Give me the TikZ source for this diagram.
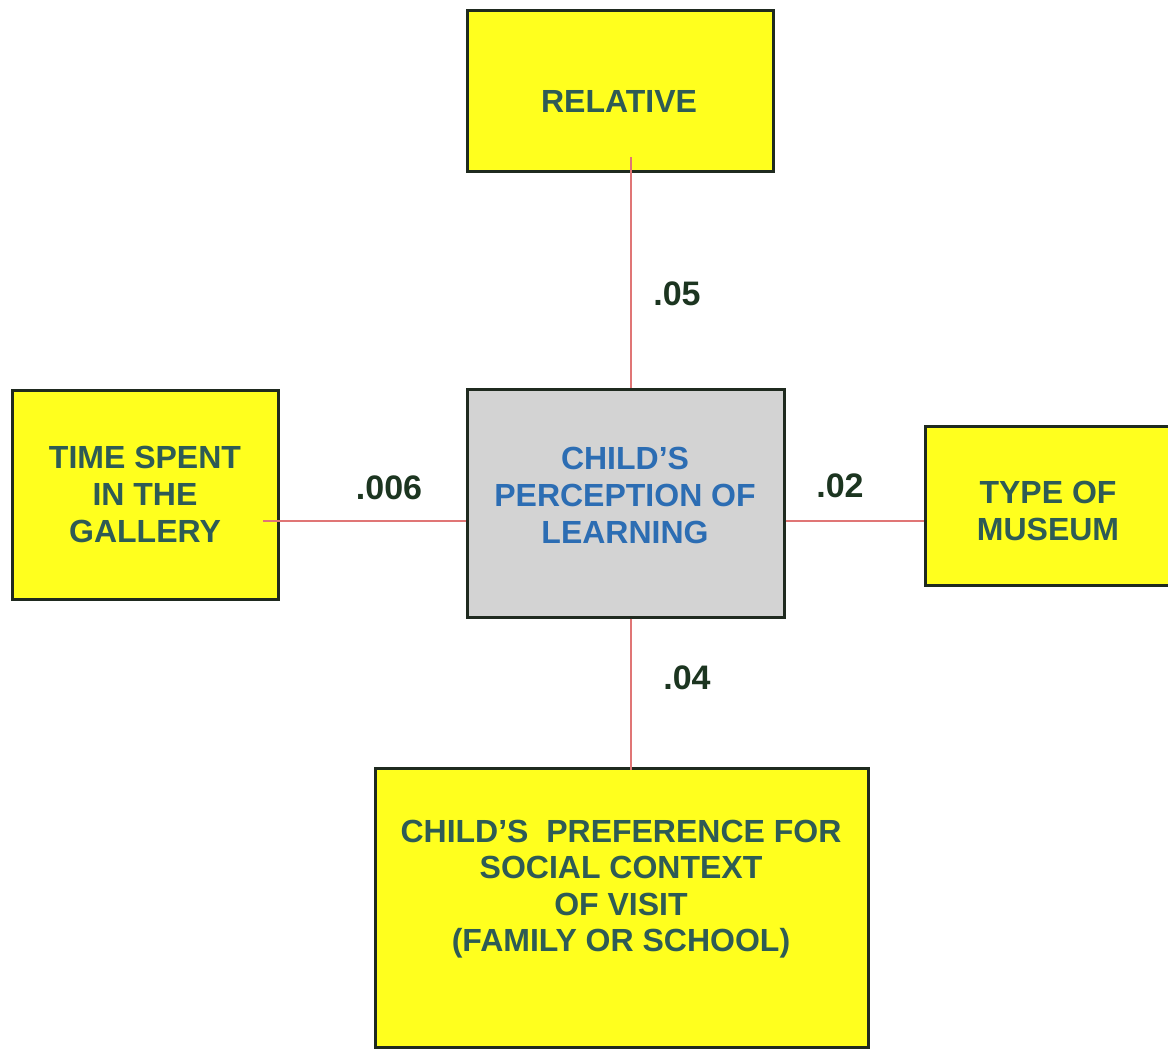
\documentclass[tikz,border=0pt]{standalone}
\usepackage{fontspec}
\setmainfont{Liberation Sans}
\definecolor{boxline}{HTML}{1F2A1F}
\definecolor{varyellow}{HTML}{FFFF1E}
\definecolor{outgrey}{HTML}{D3D3D3}
\definecolor{vartxt}{HTML}{2E5B55}
\definecolor{outtxt}{HTML}{2C6DB3}
\definecolor{coeftxt}{HTML}{1C3520}
\definecolor{linkred}{HTML}{E07575}
\begin{document}
\begin{tikzpicture}[x=1pt,y=-1pt,
  box/.style={draw=boxline, line width=3pt, inner sep=0pt},
  varbox/.style={box, fill=varyellow},
  outcome/.style={box, fill=outgrey},
  vartext/.style={text=vartxt, font=\bfseries\fontsize{32}{37}\selectfont, align=center, inner sep=0pt},
  outtext/.style={vartext, text=outtxt},
  coef/.style={text=coeftxt, font=\bfseries\fontsize{34}{40}\selectfont, inner sep=0pt},
  link/.style={draw=linkred, line width=2.8pt}]
\useasboundingbox[fill=white] (0,0) rectangle (1168,1049);

% boxes
\node[varbox, minimum width=306pt, minimum height=160pt] (rel) at (620,91) {};
\node[outcome, minimum width=317pt, minimum height=228pt] (ctr) at (625.5,503) {};
\node[varbox, minimum width=266pt, minimum height=209pt] (time) at (145,494.5) {};
\node[varbox, minimum width=246pt, minimum height=159pt] (type) at (1048,505.5) {};
\node[varbox, minimum width=493pt, minimum height=279pt] (pref) at (621.5,907.5) {};

% box texts
\node[vartext] (reltxt) at (619,101) {RELATIVE};
\node[outtext] (ctrtxt) at (625,495) {CHILD'S\\PERCEPTION OF\\LEARNING};
\node[vartext] (timetxt) at (145,494) {TIME SPENT\\IN THE\\GALLERY};
\node[vartext] (typetxt) at (1048,511) {TYPE OF\\MUSEUM};
\node[vartext, font=\bfseries\fontsize{32}{36.5}\selectfont] (preftxt) at (621,889) {CHILD'S\ \ PREFERENCE FOR\\SOCIAL CONTEXT\\OF VISIT\\(FAMILY OR SCHOOL)};

% connector ends lying inside the outer boxes
\coordinate (relfoot) at (631,157);
\coordinate (timefoot) at (263,521);
\coordinate (prefhead) at (631,770);

% connectors
\draw[link] (relfoot) -- (relfoot |- ctr.north);
\draw[link] (timefoot) -- (timefoot -| ctr.west);
\draw[link] (timefoot -| ctr.east) -- (timefoot -| type.west);
\draw[link] (prefhead |- ctr.south) -- (prefhead);

% coefficients
\node[coef] (c1) at (677,294) {.05};
\node[coef] (c2) at (389,488) {.006};
\node[coef] (c3) at (840,486) {.02};
\node[coef] (c4) at (687,678) {.04};
\end{tikzpicture}
\end{document}
